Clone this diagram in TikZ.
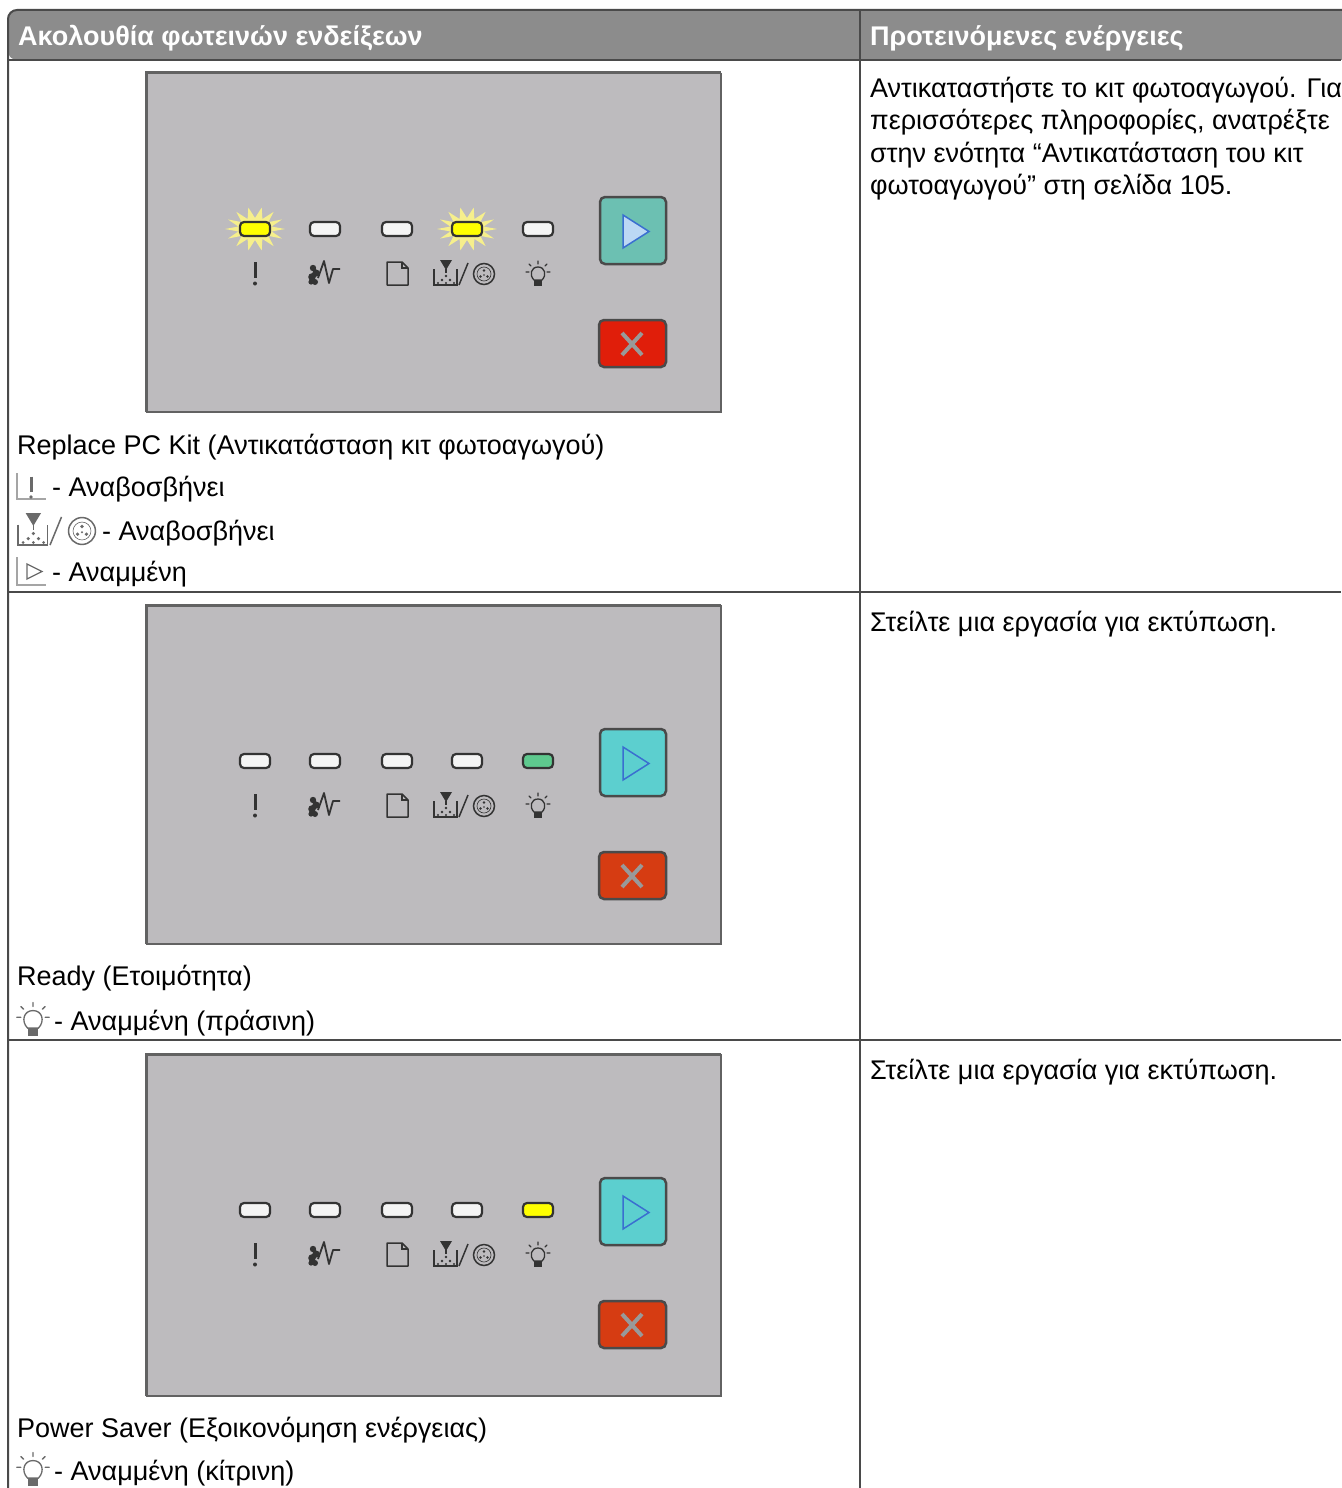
\documentclass[tikz,border=0pt]{standalone}
\usepackage{fontspec}
\setmainfont{Liberation Sans}
\definecolor{hdrfill}{HTML}{8C8C8C}
\definecolor{rulec}{HTML}{4A4A4A}
\definecolor{panelc}{HTML}{BDBBBE}
\definecolor{paneledge}{HTML}{626262}
\definecolor{ledoff}{HTML}{F4F4F4}
\definecolor{ledyel}{HTML}{FFFF00}
\definecolor{ledgrn}{HTML}{5EC98E}
\definecolor{burstc}{HTML}{F6EF8C}
\definecolor{playA}{HTML}{6CC0B2}
\definecolor{playB}{HTML}{5CCFCF}
\definecolor{trifill}{HTML}{BCD8F4}
\definecolor{tridraw}{HTML}{3A6FD0}
\definecolor{cancelA}{HTML}{E01E0A}
\definecolor{cancelB}{HTML}{D63C12}
\definecolor{iconc}{HTML}{333333}
\definecolor{legc}{HTML}{6A6A6A}
\tikzset{
  bodytext/.style={anchor=base west, inner sep=0pt, font=\fontsize{27}{32}\selectfont, text=black},
  hdrtext/.style={anchor=base west, inner sep=0pt, font=\fontsize{27}{32}\selectfont\bfseries, text=white},
  tablerule/.style={draw=rulec, line width=2pt},
  ledsty/.style={draw=iconc, line width=2.2pt, rounded corners=4pt},
  btnsty/.style={draw=rulec, line width=2.5pt, rounded corners=5pt},
}
% icons drawn around (0,0), colour given by #1
\newcommand\iconexcl[1]{%
  \draw[#1, line width=3pt] (0,-11) -- (0,5);
  \fill[#1] (0,10.5) circle (2);}
\newcommand\iconjam[1]{%
  \fill[#1] (-12,-5) circle (3.2) (-9,0) circle (3.6) (-13,4) circle (3.8) (-10,9) circle (3) (-14,9) circle (2.6);
  \draw[#1, line width=1.8pt, line join=round] (-7,5) -- (-1,-12) -- (4,10) -- (8,-4) -- (15,-4);}
\newcommand\iconpage[1]{%
  \draw[#1, line width=1.5pt, line join=round] (-10,-11) -- (5,-11) -- (11,-5) -- (11,12) -- (-10,12) -- cycle;
  \draw[#1, line width=1.2pt] (5,-11) -- (5,-5) -- (11,-5);}
\newcommand\icontoner[1]{%
  \draw[#1, line width=1.6pt] (-25,-5) -- (-25,11) -- (-2,11) -- (-2,-5);
  \fill[#1] (-19,-14) -- (-7,-14) -- (-13,-4) -- cycle;
  \draw[#1, line width=1.5pt] (-13,-5) -- (-13,-1);
  \fill[#1] (-13,2) circle (1.4) (-17,6) circle (1.4) (-9,6) circle (1.4) (-21,9) circle (1.2) (-5,9) circle (1.2) (-13,9) circle (1.2);
  \draw[#1, line width=1.5pt] (0,11) -- (9,-11);
  \draw[#1, line width=1.5pt] (25,0) circle (10.5);
  \draw[#1, line width=0.6pt] (25,0) circle (7);
  \fill[#1] (25,-3.5) circle (1.4) (21.5,2.5) circle (1.4) (28.5,2.5) circle (1.4) (25,1) circle (0.9);}
\newcommand\iconbulb[1]{%
  \draw[#1, line width=1.3pt] (-4,6) .. controls (-9,1) and (-7,-7) .. (0,-7) .. controls (7,-7) and (9,1) .. (4,6) -- cycle;
  \fill[#1] (-4,6) rectangle (4,12);
  \draw[#1, line width=1.3pt, line cap=round] (0,-10) -- (0,-13) (-7,-8) -- (-9,-10) (7,-8) -- (9,-10) (-9,-2) -- (-12,-2) (9,-2) -- (12,-2);}
% LED at x with fill
\newcommand\ledat[2]{\draw[ledsty, fill=#2] ({#1-15},149) rectangle ({#1+15},163);}
\newcommand\burstat[1]{\fill[burstc, shift={(#1,156)}] plot[samples at={0,...,27}, variable=\k] ({(mod(\k,2)==0 ? 30 : 17)*cos(\k*360/28)}, {(mod(\k,2)==0 ? 22 : 11)*sin(\k*360/28)}) -- cycle;}
% panel: #1 height, #2 play fill, #3 triangle fill, #4 cancel fill
\newcommand\panelbody[4]{%
  \fill[panelc] (146,0) rectangle (721,#1);
  \draw[paneledge, line width=3pt] (146,#1) -- (146,0) -- (721,0);
  \draw[paneledge, line width=2pt] (721,0) -- (721,#1) -- (146,#1);
  \begin{scope}[shift={(255,200)}]\iconexcl{iconc}\end{scope}
  \begin{scope}[shift={(325,200)}]\iconjam{iconc}\end{scope}
  \begin{scope}[shift={(397,200)}]\iconpage{iconc}\end{scope}
  \begin{scope}[shift={(459,201)}]\icontoner{iconc}\end{scope}
  \begin{scope}[shift={(538,201)}]\iconbulb{iconc}\end{scope}
  \draw[btnsty, fill=#2] (600,124) rectangle (666,191);
  \draw[tridraw, line width=1.5pt, fill=#3] (623,142) -- (649,158.5) -- (623,175) -- cycle;
  \draw[btnsty, fill=#4] (599,247) rectangle (666,294);
  \draw[gray!80, line width=4pt] (622,260) -- (642,282) (642,260) -- (622,282);}
\begin{document}
\begin{tikzpicture}[x=1pt,y=-1pt]
\useasboundingbox (0,0) rectangle (1341,1488);
\fill[white] (0,0) rectangle (1341,1488);
% header
\fill[hdrfill, rounded corners=9pt] (8,60) -- (8,10) -- (1350,10) -- (1350,60) -- cycle;
\draw[tablerule, rounded corners=9pt] (8,1488) -- (8,10) -- (1350,10);
\draw[tablerule] (860,10) -- (860,1488);
\draw[tablerule] (8,60) -- (1341,60);
\draw[tablerule] (8,592) -- (1341,592);
\draw[tablerule] (8,1040) -- (1341,1040);
\node[hdrtext] (h1) at (18,46) {Ακολουθία φωτεινών ενδείξεων};
\node[hdrtext] (h2) at (870,46) {Προτεινόμενες ενέργειες};
% ---------- row 1 ----------
\begin{scope}[shift={(0,73)}]
  \panelbody{339}{playA}{trifill}{cancelA}
  \burstat{255}\burstat{467}
  \ledat{255}{ledyel}\ledat{325}{ledoff}\ledat{397}{ledoff}\ledat{467}{ledyel}\ledat{538}{ledoff}
\end{scope}
\node[bodytext] (t1) at (17,454) {Replace PC Kit (Αντικατάσταση κιτ φωτοαγωγού)};
\draw[legc!60, line width=2pt] (17,473) -- (17,499) -- (46,499);
\begin{scope}[shift={(31,487)}, scale=0.95]\iconexcl{legc}\end{scope}
\node[bodytext] (t1a) at (52,496) {- Αναβοσβήνει};
\begin{scope}[shift={(50,531)}, scale=1.28]\icontoner{legc}\end{scope}
\node[bodytext] (t1b) at (102,540) {- Αναβοσβήνει};
\draw[legc!60, line width=2pt] (17,557) -- (17,585) -- (46,585);
\draw[legc, line width=1.3pt] (27,564) -- (42,571.5) -- (27,579) -- cycle;
\node[bodytext] (t1c) at (52,581) {- Αναμμένη};
\node[bodytext] (r1a) at (870,97) {Αντικαταστήστε το κιτ φωτοαγωγού. Για};
\node[bodytext] (r1b) at (870,129) {περισσότερες πληροφορίες, ανατρέξτε};
\node[bodytext] (r1c) at (870,162) {στην ενότητα “Αντικατάσταση του κιτ};
\node[bodytext] (r1d) at (870,194) {φωτοαγωγού” στη σελίδα 105.};
% ---------- row 2 ----------
\begin{scope}[shift={(0,605)}]
  \panelbody{339}{playB}{playB}{cancelB}
  \ledat{255}{ledoff}\ledat{325}{ledoff}\ledat{397}{ledoff}\ledat{467}{ledoff}\ledat{538}{ledgrn}
\end{scope}
\node[bodytext] (t2) at (17,985) {Ready (Ετοιμότητα)};
\begin{scope}[shift={(33,1020)}, scale=1.35]\iconbulb{legc}\end{scope}
\node[bodytext] (t2a) at (54,1030) {- Αναμμένη (πράσινη)};
\node[bodytext] (r2a) at (870,631) {Στείλτε μια εργασία για εκτύπωση.};
% ---------- row 3 ----------
\begin{scope}[shift={(0,1054)}]
  \panelbody{342}{playB}{playB}{cancelB}
  \ledat{255}{ledoff}\ledat{325}{ledoff}\ledat{397}{ledoff}\ledat{467}{ledoff}\ledat{538}{ledyel}
\end{scope}
\node[bodytext] (t3) at (17,1437) {Power Saver (Εξοικονόμηση ενέργειας)};
\begin{scope}[shift={(33,1470)}, scale=1.35]\iconbulb{legc}\end{scope}
\node[bodytext] (t3a) at (54,1480) {- Αναμμένη (κίτρινη)};
\node[bodytext] (r3a) at (870,1079) {Στείλτε μια εργασία για εκτύπωση.};
\end{tikzpicture}
\end{document}
